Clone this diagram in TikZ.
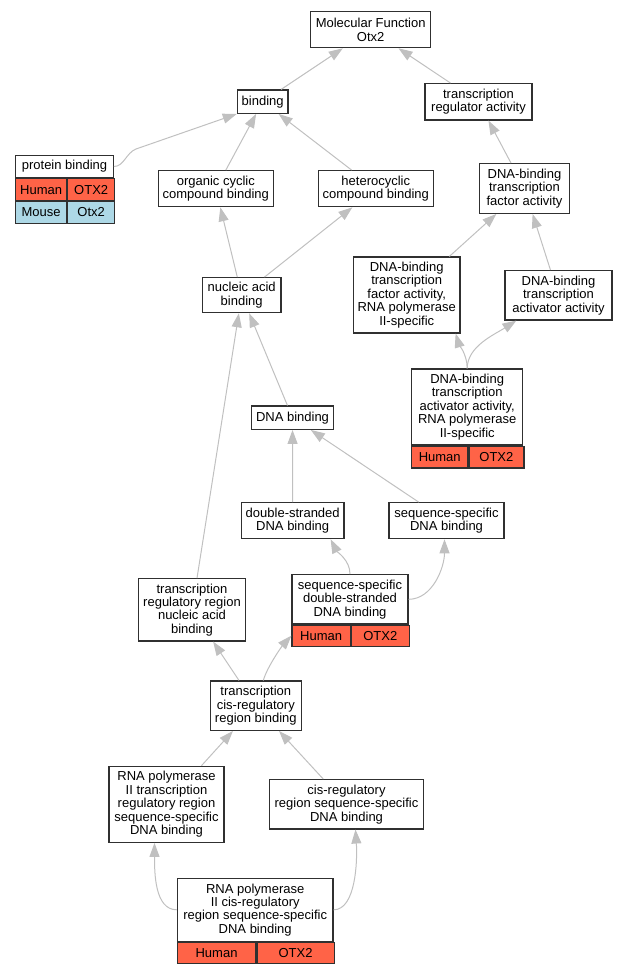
\documentclass[tikz,border=0pt]{standalone}
\usepackage{fontspec}
\usepackage{tikz}
\usetikzlibrary{arrows.meta, calc, positioning}
\newfontfamily\arialfam{Liberation Sans}
\newcommand{\termfont}{\arialfam\fontsize{13}{13.4}\selectfont}
\definecolor{tomato}{HTML}{FF6347}
\definecolor{lightblue}{HTML}{ADD8E6}
\definecolor{edgegray}{HTML}{C0C0C0}
\definecolor{boxline}{HTML}{303030}
\tikzset{
  x=1pt, y=-1pt,
  term/.style={draw=boxline, line width=1.2pt, fill=white, align=center, inner sep=0pt, font=\termfont},
  size/.style 2 args={minimum width=#1pt, minimum height=#2pt},
  human/.style={term, fill=tomato},
  mouse/.style={term, fill=lightblue},
  isa/.style={draw=edgegray, line width=1pt, -{Triangle[length=14pt, width=10pt]}},
}

\begin{document}
\begin{tikzpicture}
  \useasboundingbox (0,0) rectangle (628,973);

  % terms
  \node[term, size={120}{36}]    (mf)      at (370.7,29.7)  {Molecular Function\\Otx2};
  \node[term, size={50.7}{23.3}] (binding) at (262.7,101.7) {binding};
  \node[term, size={107}{36.3}]  (tra)     at (478.5,101.8) {transcription\\regulator activity};
  \node[term, size={115}{36}]    (ocb)     at (215.8,188.7) {organic cyclic\\compound binding};
  \node[term, size={115}{36}]    (hcb)     at (375.8,188.7) {heterocyclic\\compound binding};
  \node[term, size={89.7}{49.7}] (dtfa)    at (524.5,188.5) {DNA-binding\\transcription\\factor activity};
  \node[term, size={78.7}{35}]   (nab)     at (241.7,295.2) {nucleic acid\\binding};
  \node[term, size={106.7}{76}]  (dtfa2)   at (406.7,295)   {DNA-binding\\transcription\\factor activity,\\RNA polymerase\\II-specific};
  \node[term, size={107}{49.3}]  (dtaa)    at (558.5,295.3) {DNA-binding\\transcription\\activator activity};
  \node[term, size={81.7}{23.3}] (dnab)    at (292.5,417.7) {DNA binding};
  \node[term, size={102.7}{36}]  (dsdna)   at (292.7,520.7) {double-stranded\\DNA binding};
  \node[term, size={115}{36}]    (ssdna)   at (446.5,520.7) {sequence-specific\\DNA binding};
  \node[term, size={106.7}{62.3}] (trrnab) at (192,609.8)   {transcription\\regulatory region\\nucleic acid\\binding};
  \node[term, size={91}{49.3}]   (tcrrb)   at (255.8,705.7) {transcription\\cis-regulatory\\region binding};
  \node[term, size={115}{76}]    (rnap2trr) at (166.5,804.3) {RNA polymerase\\II transcription\\regulatory region\\sequence-specific\\DNA binding};
  \node[term, size={154.3}{49.3}] (crrss)  at (346.5,804.3) {cis-regulatory\\region sequence-specific\\DNA binding};

  % annotated terms
  \node[term, size={97.7}{22.3}] (pb) at (64.5,166.5) {protein binding};
  \node[human, size={51}{21.6}, anchor=north west]   (pbh1) at (pb.south west) {Human};
  \node[human, size={46.7}{21.6}, anchor=north west] (pbh2) at (pbh1.north east) {OTX2};
  \node[mouse, size={51}{21.7}, anchor=north west]   (pbm1) at (pbh1.south west) {Mouse};
  \node[mouse, size={46.7}{21.7}, anchor=north west] (pbm2) at (pbm1.north east) {Otx2};

  \node[term, size={111}{76}] (dtaa2) at (467.2,407) {DNA-binding\\transcription\\activator activity,\\RNA polymerase\\II-specific};
  \node[human, size={56}{21.7}, anchor=north west] (dtaa2h1) at (dtaa2.south west) {Human};
  \node[human, size={55}{21.7}, anchor=north west] (dtaa2h2) at (dtaa2h1.north east) {OTX2};

  \node[term, size={116}{49.3}] (ssds) at (350,599.3) {sequence-specific\\double-stranded\\DNA binding};
  \node[human, size={58.3}{21}, anchor=north west] (ssdsh1) at (ssds.south west) {Human};
  \node[human, size={57.7}{21}, anchor=north west] (ssdsh2) at (ssdsh1.north east) {OTX2};

  \node[term, size={155.7}{63}] (rnap2crr) at (255.2,909.8) {RNA polymerase\\II cis-regulatory\\region sequence-specific\\DNA binding};
  \node[human, size={78.4}{21}, anchor=north west] (rnap2crrh1) at (rnap2crr.south west) {Human};
  \node[human, size={77.3}{21}, anchor=north west] (rnap2crrh2) at (rnap2crrh1.north east) {OTX2};

  % is_a edges
  \draw[isa] (binding) -- (mf);
  \draw[isa] (tra) -- (mf);
  \draw[isa] (pb.east) .. controls +(10,0) and (126,153) .. (136,149) -- (binding.south west);
  \draw[isa] (ocb) -- (binding);
  \draw[isa] (hcb) -- (binding);
  \draw[isa] (dtfa) -- (tra);
  \draw[isa] (nab) -- (ocb);
  \draw[isa] (nab) -- (hcb);
  \draw[isa] (dtfa2) -- (dtfa);
  \draw[isa] (dtaa) -- (dtfa);
  \draw[isa] (dtaa2.north) .. controls +(0,-14) and +(3,10) .. ($(dtfa2.south east)+(-5,0)$);
  \draw[isa] (dtaa2.north) .. controls +(0,-22) and +(-22,14) .. ($(dtaa.south west)+(12,0)$);
  \draw[isa] (dnab) -- (nab);
  \draw[isa] (trrnab) -- (nab);
  \draw[isa] (dsdna) -- (dnab);
  \draw[isa] (ssdna) -- (dnab);
  \draw[isa] (ssds.north) .. controls +(0,-14) and +(6,12) .. ($(dsdna.south east)+(-14,0)$);
  \draw[isa] (ssds.east) .. controls +(24,0) and +(0,28) .. ($(ssdna.south)+(-2,0)$);
  \draw[isa] (tcrrb) -- (trrnab);
  \draw[isa] ($(tcrrb.north)+(7.5,0)$) .. controls +(4,-14) and +(-9,10) .. (ssdsh1.west);
  \draw[isa] (rnap2trr) -- (tcrrb);
  \draw[isa] (crrss) -- (tcrrb);
  \draw[isa] (rnap2crr.west) .. controls +(-22,0) and +(0,30) .. ($(rnap2trr.south)+(-12,0)$);
  \draw[isa] (rnap2crr.east) .. controls +(22,0) and +(2,32) .. ($(crrss.south)+(9,0)$);
\end{tikzpicture}
\end{document}
